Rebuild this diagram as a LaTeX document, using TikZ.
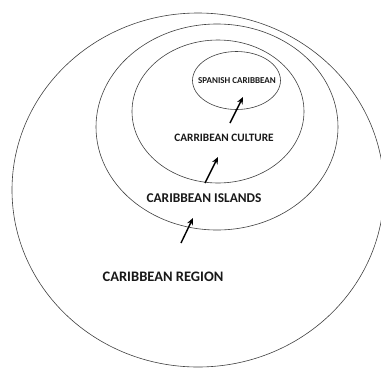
\documentclass[tikz,border=0pt]{standalone}
\usepackage{fontspec}
\setmainfont{Carlito}
\usetikzlibrary{shapes.geometric,arrows.meta}
\begin{document}
\begin{tikzpicture}[x=1pt,y=-1pt,
  ring/.style={draw=black!75,line width=0.6pt,ellipse,inner sep=0pt},
  lbl/.style={font=\bfseries,text=black!90,inner sep=0pt},
  pointer/.style={line width=1.4pt,-{Stealth[length=7pt,width=6pt]}}]
\useasboundingbox[fill=white] (0,0) rectangle (381,373);
\node[ring,minimum width=372pt,minimum height=354pt] (region) at (198,190) {};
\node[ring,minimum width=242pt,minimum height=206pt] (islands) at (217,127) {};
\node[ring,minimum width=172pt,minimum height=143pt] (culture) at (218,111.5) {};
\node[ring,minimum width=88pt,minimum height=58pt] (spanish) at (236.5,80.5) {};
\node[lbl,font=\bfseries\fontsize{9}{10}\selectfont] (tspanish) at (237,81) {SPANISH CARIBBEAN};
\node[lbl,font=\bfseries\fontsize{11.3}{13}\selectfont] (tculture) at (224,138) {CARRIBEAN CULTURE};
\node[lbl,font=\bfseries\fontsize{13.4}{15}\selectfont] (tislands) at (204,198) {CARIBBEAN ISLANDS};
\node[lbl,font=\bfseries\fontsize{14.5}{16}\selectfont] (tregion) at (163,277) {CARIBBEAN REGION};
\coordinate (a1s) at (230,123); \coordinate (a1e) at (243,97);
\coordinate (a2s) at (205,183); \coordinate (a2e) at (218,157);
\coordinate (a3s) at (181,243); \coordinate (a3e) at (193,218);
\draw[pointer] (a1s) -- (a1e);
\draw[pointer] (a2s) -- (a2e);
\draw[pointer] (a3s) -- (a3e);
\end{tikzpicture}
\end{document}
